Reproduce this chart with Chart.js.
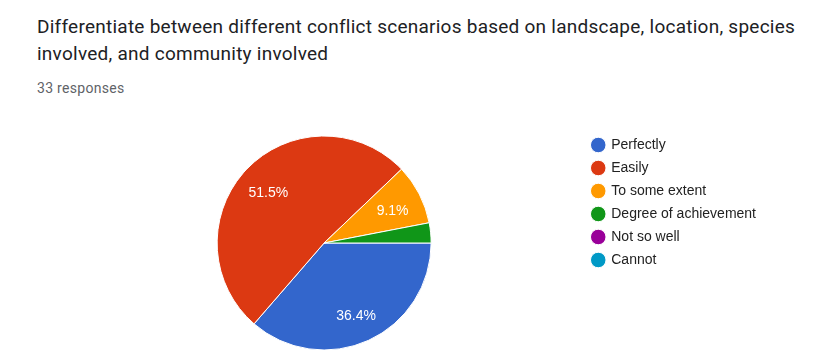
<!DOCTYPE html>
<html>
<head>
<meta charset="utf-8">
<script src="https://cdn.jsdelivr.net/npm/chart.js@4"></script>
<style>
  body { margin: 0; background: #fff; width: 832px; height: 362px; overflow: hidden; position: relative; }
  #title { position: absolute; left: 37px; top: 13px; font-family: Roboto, sans-serif; font-size: 19px; color: #202124;
           line-height: 27px; letter-spacing: 0.25px; white-space: nowrap; }
  #sub { position: absolute; left: 37px; top: 80px; font-family: Roboto, sans-serif; font-size: 14px; color: #5f6368;
         letter-spacing: 0.3px; }
  #wrap { position: absolute; left: 0; top: 108px; width: 766px; height: 252px; }
</style>
</head>
<body>
<div id="title">Differentiate between different conflict scenarios based on landscape, location, species<br>involved, and community involved</div>
<div id="sub">33 responses</div>
<div id="wrap"><canvas id="pieChart"></canvas></div>
<script>
// Dados
const labels = ['Perfectly', 'Easily', 'To some extent', 'Degree of achievement', 'Not so well', 'Cannot'];
const counts = [12, 17, 3, 1, 0, 0];
const colors = ['#3366cc', '#dc3912', '#ff9900', '#109618', '#990099', '#0099c6'];

// Rótulos de percentagem dentro das fatias
const pctLabels = {
  id: 'pctLabels',
  afterDatasetsDraw(chart) {
    const ctx = chart.ctx;
    const meta = chart.getDatasetMeta(0);
    const total = counts.reduce((a, b) => a + b, 0);
    ctx.save();
    ctx.font = '14px "Liberation Sans", Arial, sans-serif';
    ctx.fillStyle = '#fff';
    ctx.textAlign = 'center';
    ctx.textBaseline = 'middle';
    meta.data.forEach((arc, i) => {
      const pct = counts[i] / total * 100;
      if (pct < 5) return;
      const mid = (arc.startAngle + arc.endAngle) / 2;
      const r = arc.outerRadius * 0.72;
      ctx.fillText(pct.toFixed(1) + '%', arc.x + Math.cos(mid) * r, arc.y + Math.sin(mid) * r + 3);
    });
    ctx.restore();
  }
};

const ctx = document.getElementById('pieChart').getContext('2d');
const pieChart = new Chart(ctx, {
  type: 'pie',
  data: {
    labels: labels,
    datasets: [{
      data: counts,
      backgroundColor: colors,
      borderColor: '#fff',
      borderWidth: 1
    }]
  },
  options: {
    responsive: true,
    maintainAspectRatio: false,
    animation: false,
    rotation: 90,
    radius: 107,
    layout: { padding: { left: 65, top: 21, bottom: 3 } },
    plugins: {
      tooltip: { enabled: false },
      legend: {
        position: 'right',
        align: 'start',
        labels: {
          usePointStyle: true,
          pointStyle: 'circle',
          boxWidth: 12,
          boxHeight: 11,
          padding: 9,
          color: '#222',
          font: { family: '"Liberation Sans", Arial, sans-serif', size: 14 }
        }
      }
    }
  },
  plugins: [pctLabels]
});
</script>
</body>
</html>
